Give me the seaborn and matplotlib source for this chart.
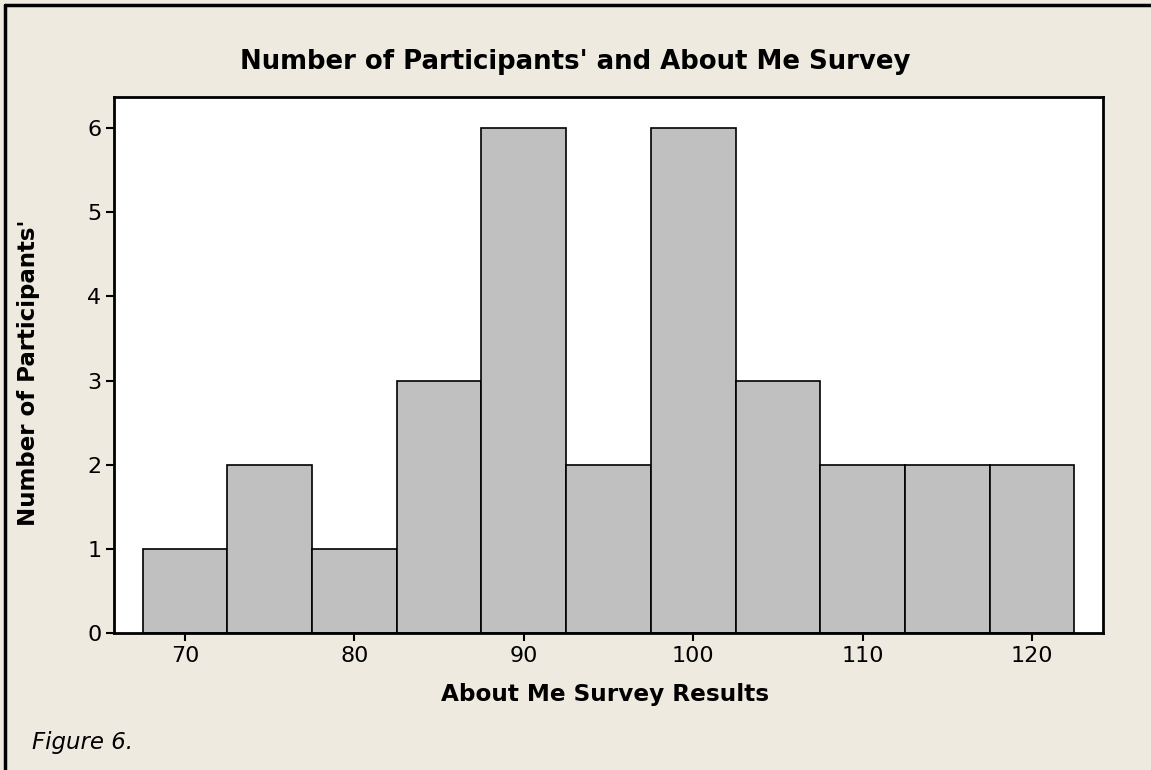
import matplotlib
matplotlib.use("Agg")
import matplotlib.pyplot as plt
import seaborn as sns
import numpy as np
import pandas as pd
from matplotlib.lines import Line2D

# Data
bin_centers = [70, 75, 80, 85, 90, 95, 100, 105, 110, 115, 120]
counts = [1, 2, 1, 3, 6, 2, 6, 3, 2, 2, 2]
x_ticks = [70, 80, 90, 100, 110, 120]
y_ticks = [0, 1, 2, 3, 4, 5, 6]
title = "Number of Participants' and About Me Survey"
xlabel = "About Me Survey Results"
ylabel = "Number of Participants'"
caption = "Figure 6."

df = pd.DataFrame({"score": bin_centers, "n": counts})

sns.set_theme(style="white")
plt.rcParams['font.family'] = ['DejaVu Sans']
plt.rcParams['text.color'] = 'black'

bg = "#EEEAE0"
fig = plt.figure(figsize=(11.51, 7.70), dpi=100, facecolor=bg)
ax = fig.add_axes([114/1151, 1-633/770, (1103-114)/1151, (633-97)/770])
ax.set_facecolor("white")

sns.histplot(data=df, x="score", weights="n", binwidth=5, binrange=(67.5, 122.5), ax=ax,
             color="#C0C0C0", edgecolor="black", linewidth=1.2, alpha=1)

ax.set_xlim(65.8, 124.2)
ax.set_ylim(0, 6.37)
ax.set_xticks(x_ticks)
ax.set_yticks(y_ticks)
ax.tick_params(axis='both', direction='out', length=6, width=1.5, color='black',
               labelsize=16, labelcolor='black', pad=3, bottom=True, left=True)
for s in ax.spines.values():
    s.set_color('black')
    s.set_linewidth(2)
ax.set_xlabel("")
ax.set_ylabel("")

fig.text(0.5, 1-62/770, title, ha='center', va='center', fontsize=18.7,
         fontweight='bold', color='black')
fig.text(605/1151, 1-694/770, xlabel, ha='center', va='center', fontsize=16.7,
         fontweight='bold', color='black')
fig.text(29/1151, 1-373/770, ylabel, ha='center', va='center', rotation=90,
         fontsize=16.5, fontweight='bold', color='black')
fig.text(32/1151, 1-742/770, caption, ha='left', va='center', fontsize=16.5,
         style='italic', color='black')

# figure border (top and left)
fig.add_artist(Line2D([5/1151, 1], [1-5/770, 1-5/770], transform=fig.transFigure, color='black', lw=2.5))
fig.add_artist(Line2D([5/1151, 5/1151], [0, 1-5/770], transform=fig.transFigure, color='black', lw=2.5))

fig.savefig("out.png", dpi=100, facecolor=bg)
